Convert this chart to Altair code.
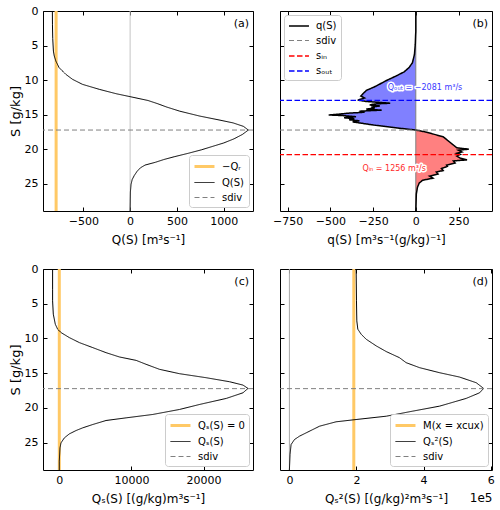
import altair as alt
import pandas as pd

FONT = "DejaVu Sans"

# ---------------- shared salinity axis ----------------
Y_TICKS = [0, 5, 10, 15, 20, 25]
Y_DOMAIN = [0, 28.95]
S_DIV = [17.23]
PANEL_LABELS = ["(a)", "(b)", "(c)", "(d)"]

# ---------------- panel (a): Q(S) ----------------
S_a = [0, 2, 4, 5.8, 6.5, 7.24, 8.2, 9.17, 9.89, 10.62, 11.34, 11.97, 12.4, 12.95,
       13.4, 13.9, 14.5, 15.2, 15.8, 16.2, 16.7, 17.23, 17.86, 18.5, 19.1, 19.6,
       20.1, 20.6, 21.1, 21.5, 21.9, 22.3, 22.7, 23.2, 23.8, 24.4, 25.1, 26.2, 28.95]
Q_a = [-830, -829, -826, -819, -810, -793, -758, -686, -615, -508, -329, -150, 0, 190,
       290, 390, 530, 740, 960, 1100, 1210, 1262, 1200, 1110, 1000, 880,
       760, 620, 470, 360, 270, 160, 110, 75, 45, 22, 10, 3, 0]
QR_NEG = [-790]
X_DOM_A = [-930, 1312]
X_TICKS_A = [-500, 0, 500, 1000]
LEG_A = ["\u2212Q\u1d63", "Q(S)", "sdiv"]

# ---------------- panel (b): q(S) ----------------
S_b = [0, 3.0, 3.4, 4.8, 6.3, 7.5, 8.2, 8.8, 9.4, 10.1, 10.9, 11.5, 12.0, 12.3, 12.6,
       12.9, 13.1, 13.25, 13.35, 13.45, 13.6, 13.75, 13.9, 14.05, 14.2, 14.35, 14.5,
       14.65, 14.8, 14.95, 15.05, 15.15, 15.3, 15.45, 15.6, 15.75, 15.9, 16.05, 16.5,
       16.9, 17.23, 17.5, 17.8, 18.2, 18.6, 19.0, 19.4, 19.8, 20.0, 20.15, 20.4, 20.6,
       20.75, 21.0, 21.3, 21.55, 21.7, 22.0, 22.3, 22.5, 22.8, 23.1, 23.3, 23.6, 23.9,
       24.2, 24.5, 24.9, 25.5, 26.5, 28.95]
q_b = [0, 0, -1, -3, -8, -20, -40, -68, -115, -175, -235, -290, -310, -322, -300,
       -340, -290, -200, -150, -240, -270, -210, -260, -240, -290, -200, -330,
       -300, -400, -460, -510, -420, -350, -420, -360, -390, -330, -370, -250,
       -120, 0, 55, 100, 160, 180, 200, 220, 240, 310, 250, 270, 240,
       260, 240, 260, 300, 220, 230, 180, 185, 150, 160, 120, 130, 80,
       100, 40, 20, 10, 3, 0]
S_IN = [20.78]
S_OUT = [12.93]
X_DOM_B = [-795, 446]
X_TICKS_B = [-750, -500, -250, 0, 250]
LEG_B = ["q(S)", "sdiv", "s\u1d62\u2099", "s\u2092\u1d64\u209c"]
ANN_TEXT = ["Q\u2092\u1d64\u209c = \u22122081 m\u00b3/s", "Q\u1d62\u2099 = 1256 m\u00b3/s"]
ANN_Q = [54, -127]
ANN_S = [11.2, 22.9]
ANN_COLOR = ["#3a3aff", "#ff2a2a"]

# ---------------- panel (c): Q_s(S) ----------------
S_c = [0, 3, 4.58, 6.5, 7.95, 8.67, 9.15, 9.88, 10.6, 11.32, 12.05, 12.67, 13.16, 13.73,
       14.45, 15.08, 15.66, 16.24, 16.72, 17.2, 17.83, 18.64, 19.51, 20.23, 20.95, 21.44,
       21.82, 22.4, 22.88, 23.27, 23.75, 24.33, 25.05, 25.77, 27.7, 28.95]
Qs_c = [-930, -930, -930, -833, -556, -231, 231, 1389, 2778, 4630, 6481, 8333, 10648,
        12037, 13889, 16667, 20370, 23611, 25463, 26157, 25463, 23148, 19444, 16667,
        12963, 9259, 6481, 4630, 3241, 2315, 1389, 694, 231, 93, 0, 0]
QS_ZERO = [0]
X_DOM_C = [-2260, 26850]
X_TICKS_C = [0, 10000, 20000]
LEG_C = ["Q\u209b(S) = 0", "Q\u209b(S)", "sdiv"]

# ---------------- panel (d): Q_{s^2}(S), units of 1e5 ----------------
S_d = [0, 4.58, 7.47, 8.67, 9.4, 10.12, 11.08, 11.9, 12.77, 13.49, 14.21, 14.94, 15.56,
       16.38, 17.2, 17.83, 18.64, 19.75, 20.47, 21.2, 21.68, 22.01, 22.64, 23.12, 23.6,
       24.08, 24.57, 25.29, 26.7, 28.95]
Qs2_d = [1.99, 2.0, 2.01, 2.04, 2.14, 2.29, 2.59, 2.89, 3.28, 3.48, 3.88, 4.48, 5.07,
         5.57, 5.79, 5.67, 5.27, 4.48, 3.68, 2.89, 1.99, 1.39, 0.90, 0.70, 0.50,
         0.30, 0.15, 0.05, 0.02, 0.0]
M_CUX = [1.92]
X_DOM_D = [-0.28, 6.04]
X_TICKS_D = [0, 2, 4, 6]
LEG_D = ["M(x = xcux)", "Q\u209b\u00b2(S)", "sdiv"]

ORANGE = "#ffc966"
ZERO = [0]

W_L, W_R, H_T, H_B = 210, 212, 200, 201


def yscale():
    return alt.Scale(domain=Y_DOMAIN, reverse=True, nice=False, zero=False)


def xscale(dom):
    return alt.Scale(domain=dom, nice=False, zero=False)


def axis_layers(df, xs, W, H, xticks, xtitle, ylab, extra_title=None):
    base = alt.Chart(df).mark_point(opacity=0, size=1)
    xl = alt.Axis(orient="bottom", values=xticks, ticks=False, tickSize=0, domain=False,
                  grid=False, labelPadding=4, title=xtitle, titlePadding=8, format="d")
    if ylab:
        yl = alt.Axis(orient="left", values=Y_TICKS, ticks=False, tickSize=0, domain=False,
                      grid=False, labelPadding=5, title="S [g/kg]", titlePadding=2,
                      titleFontSize=13)
    else:
        yl = None
    kw = dict(labels=False, domain=False, grid=False, ticks=True, tickSize=4, title=None)
    l1 = base.encode(x=alt.X("x:Q", scale=xs, axis=xl), y=alt.Y("S:Q", scale=yscale(), axis=yl))
    l2 = base.encode(
        x=alt.X("x:Q", scale=xs, axis=alt.Axis(orient="top", offset=-H, values=xticks, **kw)),
        y=alt.Y("S:Q", scale=yscale(), axis=alt.Axis(orient="right", offset=-W, values=Y_TICKS, **kw)))
    l3 = base.encode(
        x=alt.X("x:Q", scale=xs, axis=alt.Axis(orient="bottom", offset=-H, values=xticks, **kw)),
        y=alt.Y("S:Q", scale=yscale(), axis=alt.Axis(orient="left", offset=-W, values=Y_TICKS, **kw)))
    layers = [l1, l2, l3]
    if extra_title:
        l4 = base.encode(
            x=alt.X("x:Q", scale=xs, axis=alt.Axis(orient="bottom", labels=False, ticks=False,
                                                   domain=False, grid=False, title=extra_title,
                                                   titleAnchor="end", titleAlign="right",
                                                   titlePadding=22)),
            y=alt.Y("S:Q", scale=yscale(), axis=None))
        layers.append(l4)
    return layers


def panel_label(xs, xdom, lbl):
    df = pd.DataFrame({"x": [xdom[1]], "S": [Y_DOMAIN[0]], "t": [lbl]})
    return alt.Chart(df).mark_text(align="right", baseline="top", dx=-4, dy=7, fontSize=11,
                                   font=FONT, color="black").encode(
        x=alt.X("x:Q", scale=xs, axis=None), y=alt.Y("S:Q", scale=yscale(), axis=None), text="t:N")


LINE_SYMBOL = "M-1,0L2.33,0"


def series_enc(domain, colors, dashes, widths, orient):
    leg = alt.Legend(title=None, orient=orient, symbolType=LINE_SYMBOL, symbolSize=144,
                     symbolFillColor="transparent",
                     labelFontSize=10, labelFont=FONT, fillColor="white",
                     strokeColor="#cccccc", cornerRadius=3, padding=4, offset=4,
                     rowPadding=3, labelOffset=14, labelColor="black")
    return dict(
        color=alt.Color("series:N", scale=alt.Scale(domain=domain, range=colors), legend=leg),
        strokeDash=alt.StrokeDash("series:N", scale=alt.Scale(domain=domain, range=dashes), legend=leg),
        strokeWidth=alt.StrokeWidth("series:N", scale=alt.Scale(type="ordinal", domain=domain, range=widths), legend=leg),
    )


def finish(layer, W, H):
    return layer.resolve_axis(x="independent", y="independent").properties(width=W, height=H)


SOLID = [1, 0]
DASH = [5, 3]

# ---- panel (a)
xs = xscale(X_DOM_A)
df_a = pd.DataFrame({"x": Q_a, "S": S_a, "series": LEG_A[1]})
enc_a = series_enc(LEG_A, [ORANGE, "black", "gray"], [SOLID, SOLID, DASH], [3, 1, 1], "bottom-right")
pa = finish(alt.layer(
    *axis_layers(df_a, xs, W_L, H_T, X_TICKS_A, "Q(S)  [m\u00b3s\u207b\u00b9]", True),
    alt.Chart(pd.DataFrame({"x": ZERO})).mark_rule(color="#c4c4c4", strokeWidth=1).encode(
        x=alt.X("x:Q", scale=xs, axis=None)),
    alt.Chart(pd.DataFrame({"x": QR_NEG, "series": [LEG_A[0]]})).mark_rule().encode(
        x=alt.X("x:Q", scale=xs, axis=None), **enc_a),
    alt.Chart(df_a).mark_line().encode(
        x=alt.X("x:Q", scale=xs, axis=None), y=alt.Y("S:Q", scale=yscale(), axis=None),
        order="S:Q", **enc_a),
    alt.Chart(pd.DataFrame({"S": S_DIV, "series": [LEG_A[2]]})).mark_rule().encode(
        y=alt.Y("S:Q", scale=yscale(), axis=None), **enc_a),
    panel_label(xs, X_DOM_A, PANEL_LABELS[0]),
), W_L, H_T)

# ---- panel (b)
xs = xscale(X_DOM_B)
df_b = pd.DataFrame({"x": q_b, "S": S_b, "series": LEG_B[0]})
neg_b = df_b[df_b["S"] <= S_DIV[0]]
pos_b = df_b[df_b["S"] >= S_DIV[0]]
enc_b = series_enc(LEG_B, ["black", "gray", "red", "blue"], [SOLID, DASH, [5.5, 2.5], [5.5, 2.5]],
                   [1.5, 1, 1.3, 1.3], "top-left")
ann = pd.DataFrame({"text": ANN_TEXT, "x": ANN_Q, "S": ANN_S})
ann_layers = []
for i in range(len(ANN_TEXT)):
    sub = ann.iloc[[i]]
    ann_layers.append(alt.Chart(sub).mark_text(fontSize=8, font=FONT, stroke="white", strokeWidth=3,
                                               strokeJoin="round", fill="white").encode(
        x=alt.X("x:Q", scale=xs, axis=None), y=alt.Y("S:Q", scale=yscale(), axis=None), text="text:N"))
    ann_layers.append(alt.Chart(sub).mark_text(fontSize=8, font=FONT, fill=ANN_COLOR[i]).encode(
        x=alt.X("x:Q", scale=xs, axis=None), y=alt.Y("S:Q", scale=yscale(), axis=None), text="text:N"))
pb = finish(alt.layer(
    *axis_layers(df_b, xs, W_R, H_T, X_TICKS_B, "q(S)  [m\u00b3s\u207b\u00b9(g/kg)\u207b\u00b9]", False),
    alt.Chart(neg_b).mark_area(orient="horizontal", color="#8080ff").encode(
        x=alt.X("x:Q", scale=xs, axis=None), x2=alt.datum(0), y=alt.Y("S:Q", scale=yscale(), axis=None)),
    alt.Chart(pos_b).mark_area(orient="horizontal", color="#ff8080").encode(
        x=alt.X("x:Q", scale=xs, axis=None), x2=alt.datum(0), y=alt.Y("S:Q", scale=yscale(), axis=None)),
    alt.Chart(pd.DataFrame({"x": ZERO})).mark_rule(color="#7f7f7f", strokeWidth=1).encode(
        x=alt.X("x:Q", scale=xs, axis=None)),
    alt.Chart(df_b).mark_line().encode(
        x=alt.X("x:Q", scale=xs, axis=None), y=alt.Y("S:Q", scale=yscale(), axis=None),
        order="S:Q", **enc_b),
    alt.Chart(pd.DataFrame({"S": S_DIV + S_IN + S_OUT, "series": LEG_B[1:]})).mark_rule().encode(
        y=alt.Y("S:Q", scale=yscale(), axis=None), **enc_b),
    *ann_layers,
    panel_label(xs, X_DOM_B, PANEL_LABELS[1]),
), W_R, H_T)

# ---- panel (c)
xs = xscale(X_DOM_C)
df_c = pd.DataFrame({"x": Qs_c, "S": S_c, "series": LEG_C[1]})
enc_c = series_enc(LEG_C, [ORANGE, "black", "gray"], [SOLID, SOLID, DASH], [3, 1, 1], "bottom-right")
pc = finish(alt.layer(
    *axis_layers(df_c, xs, W_L, H_B, X_TICKS_C, "Q\u209b(S)  [(g/kg)m\u00b3s\u207b\u00b9]", True),
    alt.Chart(pd.DataFrame({"x": QS_ZERO, "series": [LEG_C[0]]})).mark_rule().encode(
        x=alt.X("x:Q", scale=xs, axis=None), **enc_c),
    alt.Chart(df_c).mark_line().encode(
        x=alt.X("x:Q", scale=xs, axis=None), y=alt.Y("S:Q", scale=yscale(), axis=None),
        order="S:Q", **enc_c),
    alt.Chart(pd.DataFrame({"S": S_DIV, "series": [LEG_C[2]]})).mark_rule().encode(
        y=alt.Y("S:Q", scale=yscale(), axis=None), **enc_c),
    panel_label(xs, X_DOM_C, PANEL_LABELS[2]),
), W_L, H_B)

# ---- panel (d)
xs = xscale(X_DOM_D)
df_d = pd.DataFrame({"x": Qs2_d, "S": S_d, "series": LEG_D[1]})
enc_d = series_enc(LEG_D, [ORANGE, "black", "gray"], [SOLID, SOLID, DASH], [3, 1, 1], "bottom-right")
pd_ = finish(alt.layer(
    *axis_layers(df_d, xs, W_R, H_B, X_TICKS_D, "Q\u209b\u00b2(S)  [(g/kg)\u00b2m\u00b3s\u207b\u00b9]", False,
                 extra_title="1e5"),
    alt.Chart(pd.DataFrame({"x": ZERO})).mark_rule(color="#a8a8a8", strokeWidth=1).encode(
        x=alt.X("x:Q", scale=xs, axis=None)),
    alt.Chart(pd.DataFrame({"x": M_CUX, "series": [LEG_D[0]]})).mark_rule().encode(
        x=alt.X("x:Q", scale=xs, axis=None), **enc_d),
    alt.Chart(df_d).mark_line().encode(
        x=alt.X("x:Q", scale=xs, axis=None), y=alt.Y("S:Q", scale=yscale(), axis=None),
        order="S:Q", **enc_d),
    alt.Chart(pd.DataFrame({"S": S_DIV, "series": [LEG_D[2]]})).mark_rule().encode(
        y=alt.Y("S:Q", scale=yscale(), axis=None), **enc_d),
    panel_label(xs, X_DOM_D, PANEL_LABELS[3]),
), W_R, H_B)

chart = alt.concat(pa, pb, pc, pd_, columns=2, spacing={"row": 58, "column": 27},
                   bounds="flush", align="each").resolve_scale(
    color="independent", strokeDash="independent", strokeWidth="independent"
).resolve_legend(
    color="independent", strokeDash="independent", strokeWidth="independent"
).properties(
    padding={"left": 8, "top": 4, "right": 2, "bottom": 2}
).configure_view(stroke="black", strokeWidth=1).configure_axis(
    labelFont=FONT, titleFont=FONT, labelFontSize=11, titleFontSize=12, titleFontWeight="normal",
    labelColor="black", titleColor="black", tickColor="black", tickWidth=1
)

chart.save("out.html", embed_options={"renderer": "svg", "actions": False})
